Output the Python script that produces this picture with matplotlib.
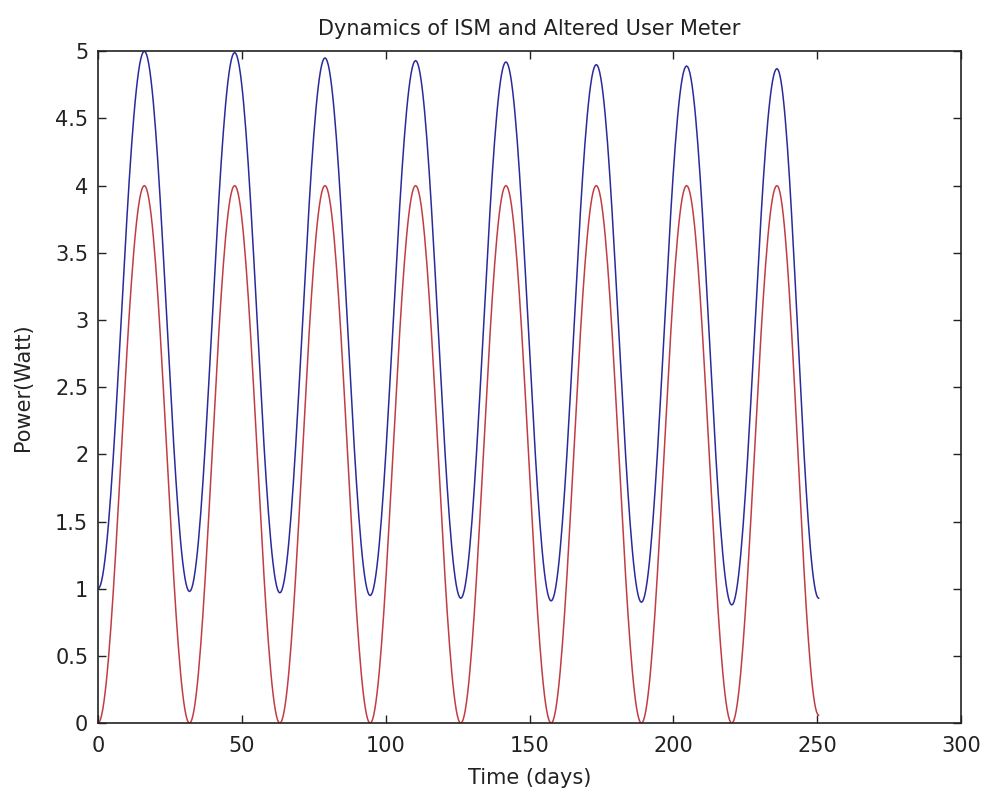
import numpy as np
import matplotlib
matplotlib.use("Agg")
import matplotlib.pyplot as plt

plt.rcParams['font.family'] = ['DejaVu Sans']

# extrema of the curves (time in days)
extrema_t = [0, 16.1, 31.8, 47.5, 63.2, 78.9, 94.6, 110.4, 126.1,
             141.8, 157.5, 173.2, 188.9, 204.6, 220.3, 236.0, 250.5]
ism_vals = [1.00, 5.00, 0.98, 4.99, 0.97, 4.95, 0.95, 4.93, 0.93,
            4.92, 0.91, 4.90, 0.90, 4.89, 0.88, 4.87, 0.93]
user_vals = [0.00, 4.00, 0.00, 4.00, 0.00, 4.00, 0.00, 4.00, 0.00,
             4.00, 0.00, 4.00, 0.00, 4.00, 0.00, 4.00, 0.06]

x_ticks = [0, 50, 100, 150, 200, 250, 300]
y_ticks = [0, 0.5, 1, 1.5, 2, 2.5, 3, 3.5, 4, 4.5, 5]
y_labels = ['0', '0.5', '1', '1.5', '2', '2.5', '3', '3.5', '4', '4.5', '5']


def smooth_path(tk, vk, n=40):
    # half-cosine segments between successive extrema
    ts, vs = [], []
    for i in range(len(tk) - 1):
        s = np.linspace(0, 1, n, endpoint=False)
        ts.append(tk[i] + (tk[i + 1] - tk[i]) * s)
        vs.append(vk[i] + (vk[i + 1] - vk[i]) * (1 - np.cos(np.pi * s)) / 2)
    ts.append([tk[-1]])
    vs.append([vk[-1]])
    return np.concatenate(ts), np.concatenate(vs)


fig = plt.figure(figsize=(9.87, 8.0), dpi=100)
ax = fig.add_axes([0.0993, 0.096, 0.8744, 0.840])

t1, v1 = smooth_path(extrema_t, ism_vals)
t2, v2 = smooth_path(extrema_t, user_vals)
ax.plot(t1, v1, color='#2a2a9c', lw=1.1)
ax.plot(t2, v2, color='#c23c44', lw=1.1)

ax.set_xlim(0, 300)
ax.set_ylim(0, 5)
ax.set_xticks(x_ticks)
ax.set_yticks(y_ticks)
ax.set_yticklabels(y_labels)
ax.tick_params(direction='in', top=True, right=True, length=6, width=1,
               labelsize=15, colors='#222222')
ax.tick_params(axis='x', pad=9)
ax.tick_params(axis='y', pad=7)
for sp in ax.spines.values():
    sp.set_linewidth(1.2)
    sp.set_color('#222222')

ax.set_title('Dynamics of ISM and Altered User Meter', fontsize=15, pad=12, color='#222222')
ax.set_xlabel('Time (days)', fontsize=15, color='#222222', labelpad=9)
ax.set_ylabel('Power(Watt)', fontsize=15, color='#222222', labelpad=16)

fig.savefig('out.png', dpi=100)
